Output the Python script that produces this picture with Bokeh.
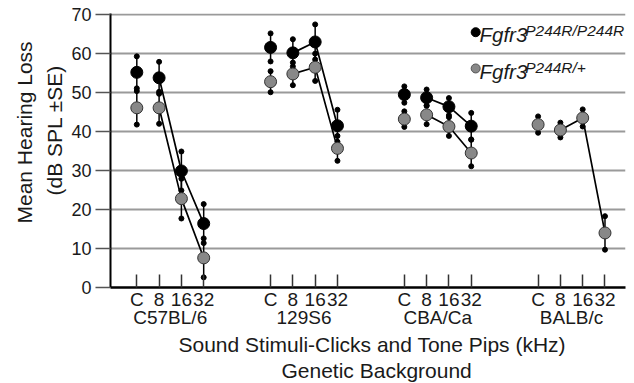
from bokeh.plotting import figure
from bokeh.models import Label, LinearAxis, FixedTicker, Range1d, Title
from bokeh.embed import file_html
from bokeh.resources import INLINE

# ---------------- data ----------------
GROUPS = ["C57BL/6", "129S6", "CBA/Ca", "BALB/c"]
FREQS = ["C", "8", "16", "32"]
NAN = float("nan")

# Fgfr3 P244R/P244R (black)
HOMO_MEAN = [
    [55.2, 53.8, 29.9, 16.4],
    [61.6, 60.2, 63.0, 41.5],
    [49.5, 48.7, 46.4, 41.4],
    [NAN, NAN, NAN, NAN],
]
HOMO_SE = [
    [4.1, 4.1, 5.0, 5.0],
    [3.6, 3.5, 4.5, 4.1],
    [2.1, 2.1, 2.2, 3.4],
    [NAN, NAN, NAN, NAN],
]
# Fgfr3 P244R/+ (grey)
HET_MEAN = [
    [46.1, 46.1, 22.8, 7.6],
    [52.8, 54.8, 56.5, 35.7],
    [43.2, 44.3, 41.3, 34.5],
    [41.8, 40.4, 43.5, 14.0],
]
HET_SE = [
    [4.3, 4.1, 5.1, 5.0],
    [2.7, 2.9, 3.5, 3.2],
    [2.0, 2.4, 2.4, 3.4],
    [2.1, 1.9, 2.2, 4.3],
]
Y_TICKS = [0, 10, 20, 30, 40, 50, 60, 70]
GROUP_STEP = 6

FONT = "Liberation Sans"
TXT = "#1a1a1a"
GREY = "#888888"

p = figure(width=634, height=383, output_backend="svg", toolbar_location=None,
           x_range=Range1d(-1.18, 21.92), y_range=Range1d(0, 70.3),
           min_border_left=110, min_border_right=9, min_border_top=13,
           min_border_bottom=96)
p.outline_line_color = None
p.background_fill_color = "white"
p.border_fill_color = "white"

xs_all = [g * GROUP_STEP + i for g in range(len(GROUPS)) for i in range(len(FREQS))]

# grid
p.xgrid.visible = False
p.ygrid.ticker = FixedTicker(ticks=Y_TICKS[1:])
p.ygrid.grid_line_color = "#9a9a9a"
p.ygrid.grid_line_width = 1.8

# y axis
ya = p.yaxis[0]
ya.ticker = FixedTicker(ticks=Y_TICKS)
ya.axis_line_color = "black"
ya.axis_line_width = 2
ya.major_tick_out = 15
ya.major_tick_in = 0
ya.major_tick_line_color = "#555555"
ya.major_tick_line_width = 1.5
ya.minor_tick_line_color = None
ya.major_label_standoff = 4
ya.major_label_text_font = FONT
ya.major_label_text_font_size = "18px"
ya.major_label_text_color = TXT

# x axis (frequencies)
xa = p.xaxis[0]
xa.ticker = FixedTicker(ticks=xs_all)
xa.major_label_overrides = {x: FREQS[k % len(FREQS)] for k, x in enumerate(xs_all)}
xa.axis_line_color = "black"
xa.axis_line_width = 2.5
xa.major_tick_in = 13
xa.major_tick_out = 0
xa.major_tick_line_color = "#333333"
xa.major_tick_line_width = 1.5
xa.minor_tick_line_color = None
xa.major_label_standoff = 1
xa.major_label_text_font = FONT
xa.major_label_text_font_size = "19px"
xa.major_label_text_color = TXT

# group axis
centers = [g * GROUP_STEP + (len(FREQS) - 1) / 2 for g in range(len(GROUPS))]
ga = LinearAxis(ticker=FixedTicker(ticks=centers),
                major_label_overrides={c: GROUPS[k] for k, c in enumerate(centers)})
ga.axis_line_color = None
ga.major_tick_line_color = None
ga.major_tick_in = 0
ga.major_tick_out = 0
ga.minor_tick_line_color = None
ga.major_label_standoff = -6
ga.major_label_text_font = FONT
ga.major_label_text_font_size = "19px"
ga.major_label_text_color = TXT
p.add_layout(ga, "below")

# axis titles
def title(text, side, offset, standoff):
    t = Title(text=text, align="left", offset=offset, standoff=standoff,
              text_font=FONT, text_font_size="21px", text_font_style="normal",
              text_color=TXT)
    p.add_layout(t, side)

title("(dB SPL \u00b1SE)", "left", 92, 6)
title("Mean Hearing Loss", "left", 64, 4)
title("Sound Stimuli-Clicks and Tone Pips (kHz)", "below", 68, 0)
title("Genetic Background", "below", 171, 3)

# ---------------- series ----------------
def draw_bars(means, ses):
    for g in range(len(GROUPS)):
        xg = [g * GROUP_STEP + i for i in range(len(FREQS))]
        m = means[g]
        if all(v != v for v in m):
            continue
        p.line(xg[1:], m[1:], line_color="black", line_width=1.7)
    for g in range(len(GROUPS)):
        xg = [g * GROUP_STEP + i for i in range(len(FREQS))]
        m = means[g]
        s = ses[g]
        if all(v != v for v in m):
            continue
        lo = [a - b for a, b in zip(m, s)]
        hi = [a + b for a, b in zip(m, s)]
        p.segment(x0=xg, y0=lo, x1=xg, y1=hi, line_color="black", line_width=1.5)
        p.scatter(xg + xg, lo + hi, size=5, fill_color="black", line_color="black")

draw_bars(HOMO_MEAN, HOMO_SE)
draw_bars(HET_MEAN, HET_SE)

for g in range(len(GROUPS)):
    xg = [g * GROUP_STEP + i for i in range(len(FREQS))]
    if not all(v != v for v in HET_MEAN[g]):
        p.scatter(xg, HET_MEAN[g], size=12, fill_color=GREY, line_color="#333333", line_width=1)
    if not all(v != v for v in HOMO_MEAN[g]):
        p.scatter(xg, HOMO_MEAN[g], size=12, fill_color="black", line_color="black")

# ---------------- legend ----------------
LEG_X = 15.2
LEG_TX = 15.37
LEG_SX = 17.42
LEG_Y = [65.5, 56.2]
LEG_BASE = [64.95, 55.4]
LEG_SUP = [65.9, 56.4]
LEG_SUPTXT = ["P244R/P244R", "P244R/+"]
p.scatter([LEG_X], [LEG_Y[0]], size=9, fill_color="black", line_color="black")
p.scatter([LEG_X], [LEG_Y[1]], size=9, fill_color=GREY, line_color="#555555")
for k in range(2):
    p.add_layout(Label(x=LEG_TX, y=LEG_BASE[k], text="Fgfr3", text_font=FONT,
                       text_font_size="20.5px", text_font_style="italic",
                       text_color=TXT, text_baseline="alphabetic"))
    p.add_layout(Label(x=LEG_SX, y=LEG_SUP[k], text=LEG_SUPTXT[k], text_font=FONT,
                       text_font_size="15.5px", text_font_style="italic",
                       text_color=TXT, text_baseline="alphabetic"))

open("out.html", "w").write(file_html(p, INLINE))
